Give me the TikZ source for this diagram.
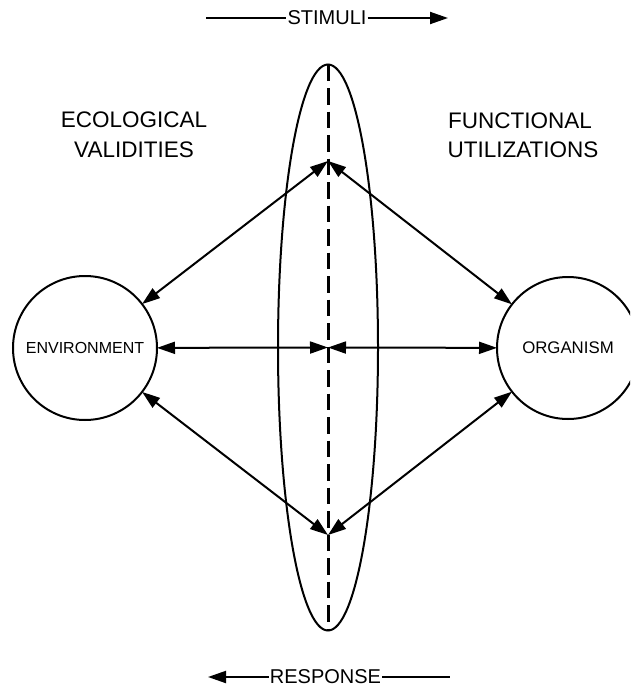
\documentclass[tikz,border=0pt]{standalone}
\usepackage{fontspec}
\setmainfont{Liberation Sans}
\usetikzlibrary{arrows.meta,shapes.geometric}
\begin{document}
\begin{tikzpicture}[x=1pt,y=-1pt,
  ln/.style={line width=2pt},
  dbl/.style={ln,{Triangle[length=18pt,width=12pt]}-{Triangle[length=18pt,width=12pt]}},
  sgl/.style={ln,-{Triangle[length=18pt,width=12pt]}},
  lbl/.style={inner sep=1pt,font=\fontsize{20}{24}\selectfont},
  big/.style={inner sep=0pt,font=\fontsize{22.5}{27}\selectfont},
  circ/.style={circle,draw,ln,inner sep=0pt,outer sep=0pt,font=\fontsize{16}{19}\selectfont}]
\useasboundingbox (0,0) rectangle (630,688);
\clip (0,0) rectangle (630,688);
% top label
\node[lbl] (stim) at (327,18) {STIMULI};
\coordinate (s0) at (206,18);
\coordinate (s1) at (448,18);
\draw[ln] (s0) -- (stim.west);
\draw[sgl] (stim.east) -- (s1);
% bottom label
\node[lbl] (resp) at (325.5,677) {RESPONSE};
\coordinate (r0) at (208,677);
\coordinate (r1) at (450,677);
\draw[sgl] (resp.west) -- (r0);
\draw[ln] (resp.east) -- (r1);
% headings
\node[big] (eco1) at (134,120) {ECOLOGICAL};
\node[big] (eco2) at (134,150) {VALIDITIES};
\node[big] (fun1) at (520,121) {FUNCTIONAL};
\node[big] (fun2) at (523,150) {UTILIZATIONS};
% ellipse
\node[ellipse,draw,ln,minimum width=100pt,minimum height=566pt,inner sep=0pt,outer sep=0pt] (ell) at (328,347.5) {};
\draw[line width=3pt,dash pattern=on 16.5pt off 7pt] (ell.north) -- (ell.south);
% circles
\node[circ,minimum size=144pt] (env) at (85,348) {ENVIRONMENT};
\node[circ,minimum size=142pt,font=\fontsize{16.8}{20}\selectfont] (org) at (568,348) {ORGANISM};
% points
\coordinate (up) at (328,161);
\coordinate (mid) at (328,347.5);
\coordinate (low) at (328,535);
% connectors
\draw[dbl] (up) -- (env);
\draw[dbl] (up) -- (org);
\draw[dbl] (mid) -- (env);
\draw[dbl] (mid) -- (org);
\draw[dbl] (low) -- (env);
\draw[dbl] (low) -- (org);
\end{tikzpicture}
\end{document}
